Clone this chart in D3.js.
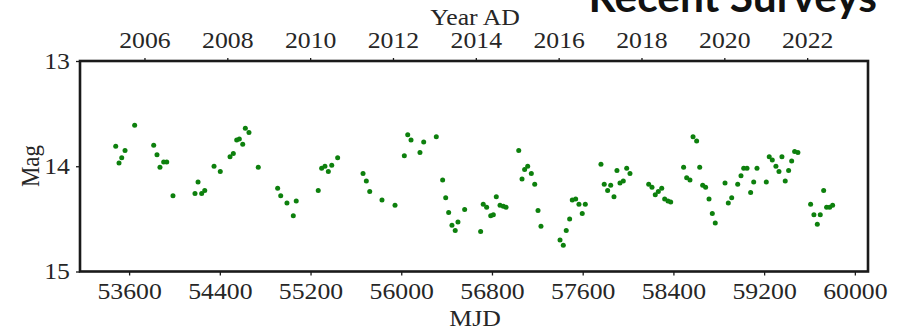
<!DOCTYPE html>
<html>
<head>
<meta charset="utf-8">
<script src="https://cdn.jsdelivr.net/npm/d3@7"></script>
<style>
  html, body { margin: 0; padding: 0; background: #fff; }
  svg { display: block; }
  .tick text, .lbl { font-family: "Liberation Serif", "Times New Roman", serif; fill: #262626; }
</style>
</head>
<body>
<svg id="chart" width="899" height="330"></svg>
<script>
// Light curve: observation date (MJD) and magnitude
const mjd = [
  53482, 53564, 53535, 53511, 53649, 53817, 53846, 53905, 53932, 53872,
  53987, 54181, 54208, 54240, 54267, 54349, 54404, 54490, 54519, 54549,
  54572, 54602, 54625, 54657, 54739, 54910, 54937, 54992, 55074, 55048,
  55268, 55298, 55327, 55357, 55387, 55439, 55663, 55692, 55722, 55830,
  55945, 56027, 56057, 56086, 56165, 56198, 56309, 56365, 56392, 56418,
  56447, 56476, 56500, 56559, 56700, 56723, 56753, 56789, 56812, 56838,
  56871, 56900, 56924, 57036, 57065, 57088, 57115, 57147, 57177, 57206,
  57232, 57400, 57429, 57455, 57485, 57508, 57538, 57567, 57623, 57596,
  57761, 57790, 57820, 57847, 57876, 57902, 57929, 57958, 57988, 58017,
  58182, 58211, 58240, 58267, 58297, 58323, 58352, 58376, 58573, 58605,
  58490, 58517, 58546, 58632, 58658, 58684, 58714, 58743, 58769, 58855,
  58884, 58914, 58967, 58996, 59020, 59049, 59081, 59108, 59137, 59219,
  59245, 59272, 59304, 59331, 59357, 59386, 59416, 59443, 59469, 59498,
  59610, 59639, 59669, 59695, 59725, 59751, 59778, 59804
];
const mag = [
  13.81, 13.85, 13.92, 13.97, 13.61, 13.80, 13.89, 13.96, 13.96, 14.01,
  14.28, 14.26, 14.15, 14.26, 14.23, 14.00, 14.05, 13.91, 13.88, 13.75,
  13.74, 13.79, 13.64, 13.68, 14.01, 14.21, 14.28, 14.35, 14.33, 14.47,
  14.23, 14.02, 14.00, 14.05, 13.99, 13.92, 14.07, 14.14, 14.24, 14.32,
  14.37, 13.90, 13.70, 13.75, 13.87, 13.77, 13.72, 14.13, 14.30, 14.44,
  14.56, 14.61, 14.53, 14.41, 14.62, 14.36, 14.39, 14.47, 14.46, 14.29,
  14.37, 14.38, 14.39, 13.85, 14.12, 14.03, 14.00, 14.07, 14.17, 14.42,
  14.57, 14.70, 14.75, 14.61, 14.50, 14.32, 14.31, 14.36, 14.36, 14.45,
  13.98, 14.17, 14.23, 14.18, 14.29, 14.04, 14.16, 14.14, 14.02, 14.07,
  14.17, 14.20, 14.27, 14.24, 14.21, 14.31, 14.33, 14.34, 13.72, 13.76,
  14.01, 14.11, 14.13, 14.01, 14.18, 14.20, 14.31, 14.45, 14.54, 14.16,
  14.35, 14.30, 14.17, 14.09, 14.02, 14.02, 14.25, 14.15, 14.02, 14.15,
  13.91, 13.94, 14.00, 14.05, 13.91, 14.14, 14.04, 13.95, 13.86, 13.87,
  14.36, 14.46, 14.55, 14.46, 14.23, 14.39, 14.39, 14.37
];

// Axis ticks
const mjdTicks = [53600, 54400, 55200, 56000, 56800, 57600, 58400, 59200, 60000];
const magTicks = [13, 14, 15];
const yearTicks = [2006, 2008, 2010, 2012, 2014, 2016, 2018, 2020, 2022];

const svg = d3.select("#chart");
const plotLeft = 80, plotRight = 868, plotTop = 61, plotBottom = 271.5;
const stretch = 1.12;   // horizontal text aspect

const x = d3.scaleLinear().domain([53167, 60116]).range([plotLeft, plotRight]);
const y = d3.scaleLinear().domain([13, 15]).range([plotTop, plotBottom]);
// calendar year (Jan 1) -> MJD
const yearToMjd = yr => 51544 + (yr - 2000) * 365.25;

const fontSize = "23px";

function styleAxis(g) {
  g.select(".domain").remove();
  g.selectAll(".tick line").attr("stroke", "#1a1a1a").attr("stroke-width", 1.3);
  g.selectAll(".tick text").style("font-size", fontSize)
    .attr("transform", `scale(${stretch},1)`);
}

// bottom axis (MJD)
svg.append("g")
  .attr("transform", `translate(0,${plotBottom})`)
  .call(d3.axisBottom(x).tickValues(mjdTicks).tickFormat(d3.format("d")).tickSize(4).tickPadding(7).tickSizeOuter(0))
  .call(styleAxis);

// left axis (Mag)
svg.append("g")
  .attr("transform", `translate(${plotLeft},0)`)
  .call(d3.axisLeft(y).tickValues(magTicks).tickFormat(d3.format("d")).tickSize(4).tickPadding(5).tickSizeOuter(0))
  .call(styleAxis);

// top axis (calendar year)
svg.append("g")
  .attr("transform", `translate(0,${plotTop})`)
  .call(d3.axisTop(x).tickValues(yearTicks.map(yearToMjd)).tickFormat((d, i) => yearTicks[i]).tickSize(3).tickPadding(10).tickSizeOuter(0))
  .call(styleAxis);

// frame
svg.append("rect")
  .attr("x", plotLeft).attr("y", plotTop)
  .attr("width", plotRight - plotLeft).attr("height", plotBottom - plotTop)
  .attr("fill", "none").attr("stroke", "#1a1a1a").attr("stroke-width", 2.6);

// observations
svg.append("g")
  .selectAll("circle")
  .data(mjd.map((d, i) => [d, mag[i]]))
  .join("circle")
  .attr("cx", d => x(d[0]))
  .attr("cy", d => y(d[1]))
  .attr("r", 2.5)
  .attr("fill", "#0d800d");

// axis titles
svg.append("text").attr("class", "lbl")
  .attr("transform", `translate(475,326) scale(${stretch},1)`)
  .attr("text-anchor", "middle").style("font-size", fontSize).text("MJD");
svg.append("text").attr("class", "lbl")
  .attr("transform", `translate(475,24.5) scale(${stretch},1)`)
  .attr("text-anchor", "middle").style("font-size", fontSize).text("Year AD");
svg.append("text").attr("class", "lbl")
  .attr("transform", `translate(39,166) scale(${stretch},1) rotate(-90)`)
  .attr("text-anchor", "middle").style("font-size", fontSize).text("Mag");

// panel title, running off the top edge
svg.append("text")
  .attr("x", 877).attr("y", 11.5)
  .attr("text-anchor", "end")
  .style("font-family", "Lato, 'Open Sans', sans-serif")
  .style("font-weight", 700)
  .style("font-size", "42.5px")
  .style("fill", "#111")
  .text("Recent Surveys");
</script>
</body>
</html>
